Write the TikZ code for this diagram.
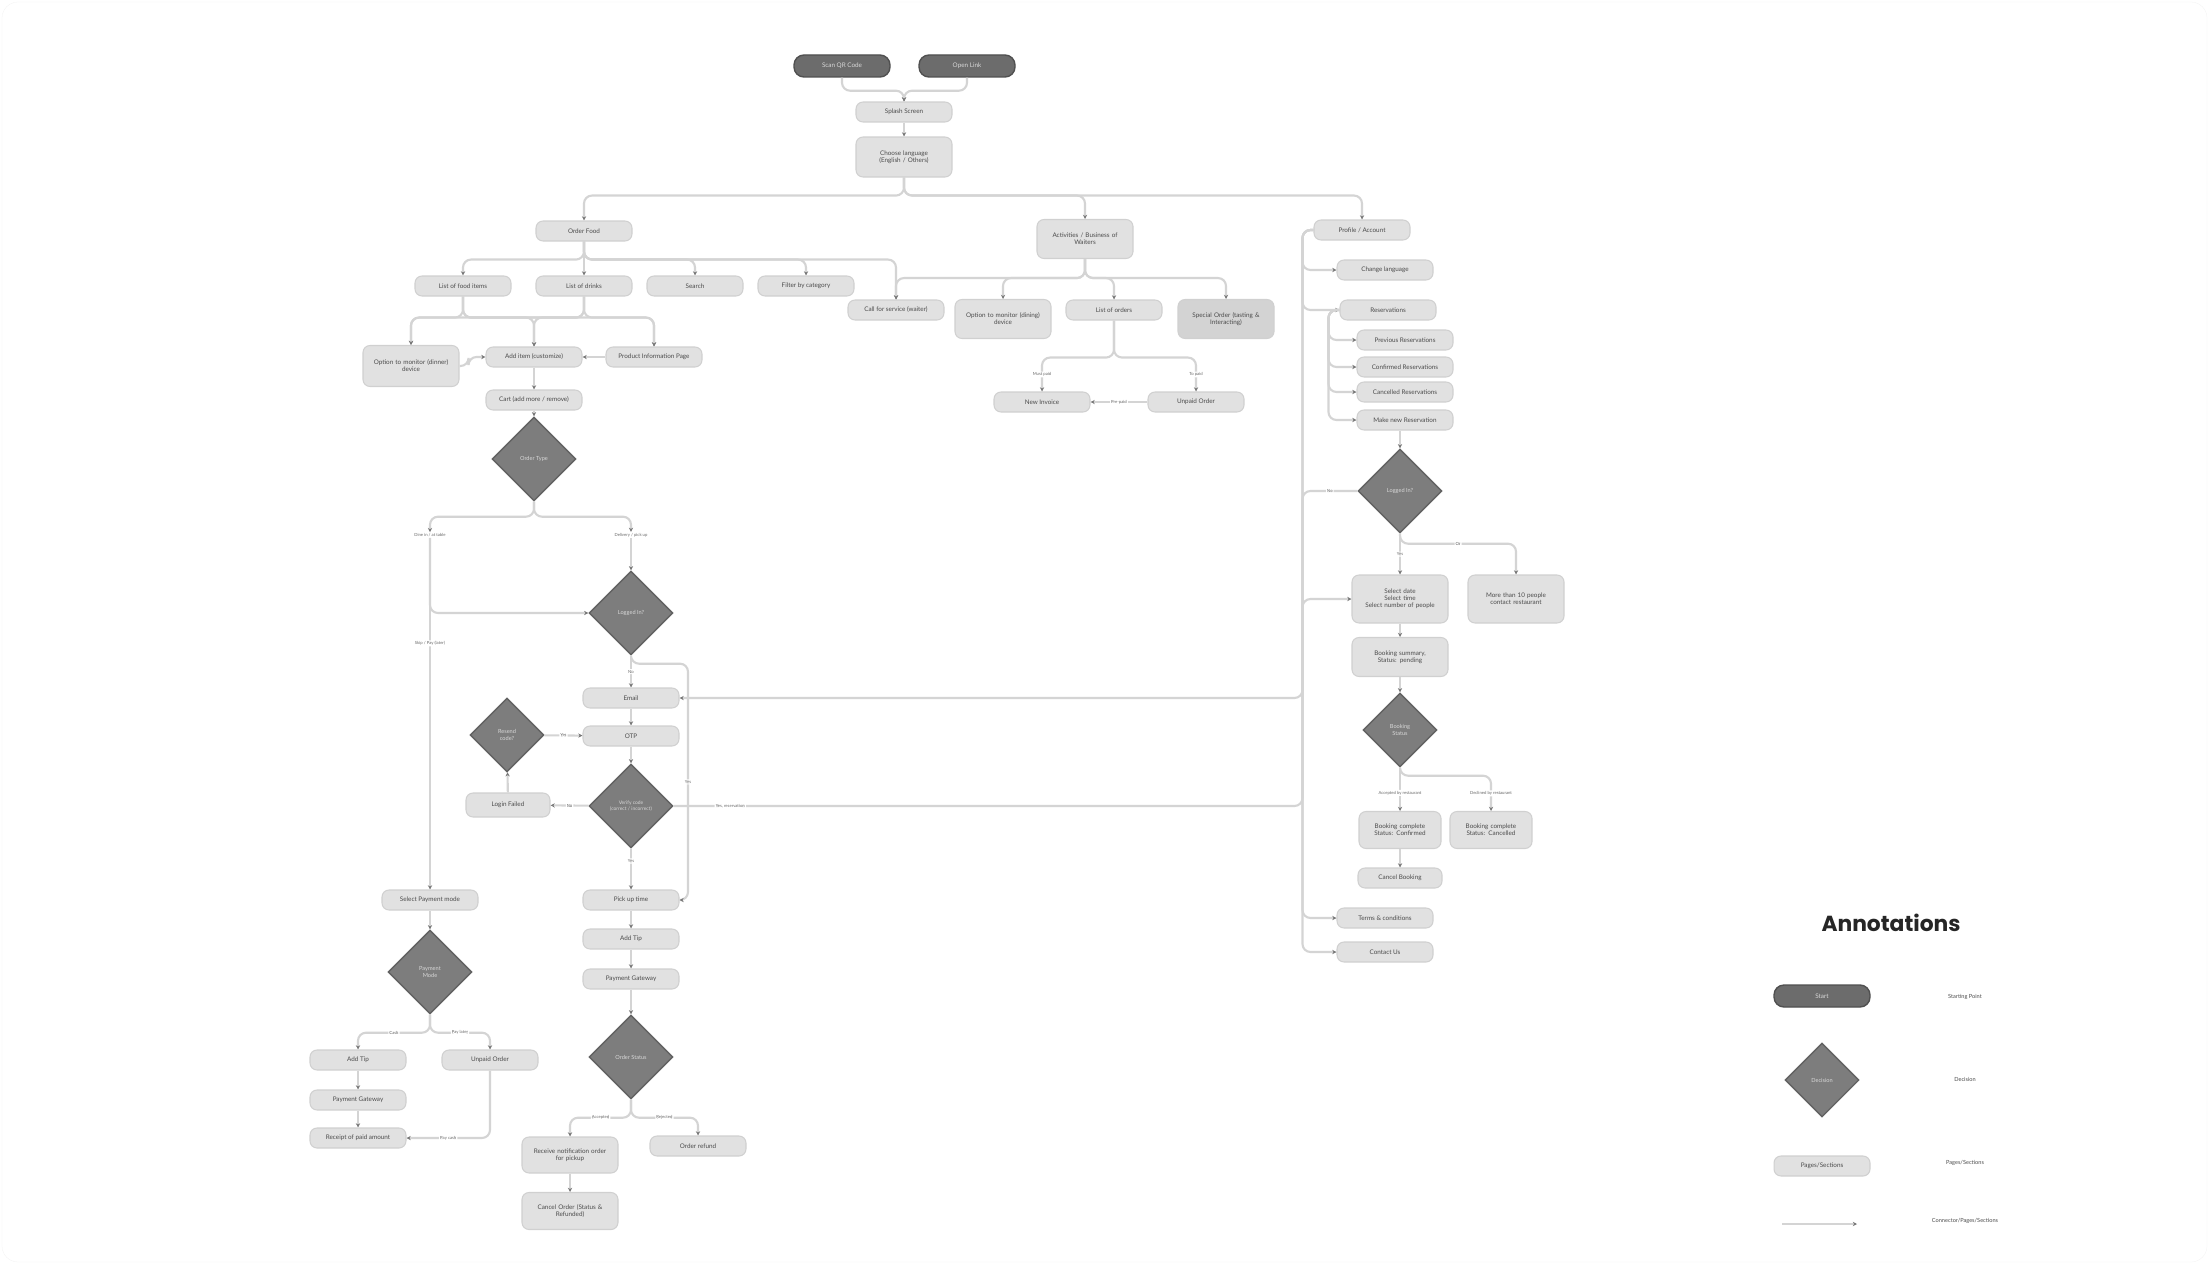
\documentclass[tikz,border=0pt]{standalone}
\usepackage{fontspec}
\setmainfont{Lato}
\newfontfamily\titlefont{Poppins}
\usetikzlibrary{shapes.geometric,arrows.meta,calc}
\definecolor{pagefill}{RGB}{225,225,225}
\definecolor{pageline}{RGB}{208,208,208}
\definecolor{pagetext}{RGB}{75,75,75}
\definecolor{startfill}{RGB}{108,108,108}
\definecolor{startline}{RGB}{80,80,80}
\definecolor{decfill}{RGB}{125,125,125}
\definecolor{decline}{RGB}{98,98,98}
\definecolor{linkgray}{RGB}{212,212,212}
\definecolor{tipgray}{RGB}{120,120,120}
\definecolor{lbltext}{RGB}{105,105,105}

\tikzset{
  page/.style={draw=pageline, line width=1.5pt, fill=pagefill, rounded corners=0.35cm,
    minimum width=4.8cm, minimum height=1cm, text=pagetext, align=center, inner sep=2pt,
    font=\fontsize{9}{10}\selectfont},
  page2/.style={page, minimum height=1.95cm, text width=4.4cm},
  startpill/.style={page, draw=startline, fill=startfill, text=white!85!black,
    rounded corners=0.5cm, minimum height=1.1cm, line width=2pt},
  decision/.style={diamond, draw=decline, line width=2pt, fill=decfill, minimum width=4.2cm,
    minimum height=4.2cm, inner sep=0pt, text=white!85!black, align=center,
    font=\fontsize{8}{9}\selectfont},
  smalldec/.style={decision, minimum width=3.7cm, minimum height=3.7cm},
  link/.style={draw=linkgray, line width=3pt, rounded corners=0.4cm,
    -{Stealth[length=6pt,width=6pt,color=tipgray]}},
  lbl/.style={fill=white, inner sep=1.5pt, text=lbltext, font=\fontsize{6}{7}\selectfont},
  legendtext/.style={text=pagetext, font=\fontsize{8}{9}\selectfont},
}

\begin{document}
\begin{tikzpicture}[x=0.05cm,y=-0.05cm]
\useasboundingbox (0,0) rectangle (2209,1264);
\draw[gray!10, fill=white, rounded corners=0.8cm] (2,2) rectangle (2207,1262);

% start
\node[startpill] (qr) at (842,66) {Scan QR Code};
\node[startpill] (openlink) at (967,66) {Open Link};
\node[page] (splash) at (904,112) {Splash Screen};
\node[page2, minimum height=2cm] (lang) at (904,157) {Choose language\\(English / Others)};

% main sections
\node[page] (order) at (584,231) {Order Food};
\node[page2] (waiter) at (1085,239) {Activities / Business of\\Waiters};
\node[page] (profile) at (1362,230) {Profile / Account};

% order food
\node[page] (food) at (463,286) {List of food items};
\node[page] (drinks) at (584,286) {List of drinks};
\node[page] (search) at (695,286) {Search};
\node[page] (filter) at (806,286) {Filter by category};
\node[page] (call) at (896,310) {Call for service (waiter)};
\node[page2, minimum height=2.05cm] (monitor) at (411,366) {Option to monitor (dinner)\\device};
\node[page] (additem) at (534,357) {Add item (customize)};
\node[page] (product) at (654,357) {Product Information Page};
\node[page] (cart) at (534,400) {Cart (add more / remove)};
\node[decision] (otype) at (534,459) {Order Type};
\node[lbl] (dine) at (430,535) {Dine in / at table};
\node[lbl] (delivery) at (631,535) {Delivery / pick up};
\node[decision] (logina) at (631,613) {Logged In?};
\node[page] (email) at (631,698) {Email};
\node[page] (otp) at (631,736) {OTP};
\node[smalldec] (resend) at (507,735) {Resend\\code?};
\node[page, minimum width=4.2cm, minimum height=1.2cm] (failed) at (508,805) {Login Failed};
\node[decision, font=\fontsize{7}{8}\selectfont] (verify) at (631,806) {Verify code\\(correct / incorrect)};
\node[page] (pickup) at (631,900) {Pick up time};
\node[page] (tipa) at (631,939) {Add Tip};
\node[page] (gwa) at (631,979) {Payment Gateway};
\node[decision] (ostatus) at (631,1057) {Order Status};
\node[page2, minimum height=1.8cm] (notify) at (570,1155) {Receive notification order\\for pickup};
\node[page] (refund) at (698,1146) {Order refund};
\node[page2, minimum height=1.85cm] (cancelord) at (570,1211) {Cancel Order (Status \&\\Refunded)};

% payment at table
\node[page] (paymode) at (430,900) {Select Payment mode};
\node[decision] (pmode) at (430,972) {Payment\\Mode};
\node[page] (tipb) at (358,1060) {Add Tip};
\node[page] (unpaid) at (490,1060) {Unpaid Order};
\node[page] (gwb) at (358,1100) {Payment Gateway};
\node[page] (receipt) at (358,1138) {Receipt of paid amount};

% waiters
\node[page2] (monitorb) at (1003,319) {Option to monitor (dining)\\device};
\node[page] (orders) at (1114,310) {List of orders};
\node[page2, fill=pagefill!94!black] (special) at (1226,319) {Special Order (tasting \&\\Interacting)};
\node[page] (invoice) at (1042,402) {New Invoice};
\node[page] (unpaidb) at (1196,402) {Unpaid Order};

% profile
\node[page] (langb) at (1385,270) {Change language};
\node[page] (resv) at (1388,310) {Reservations};
\node[page] (prev) at (1405,340) {Previous Reservations};
\node[page] (conf) at (1405,367) {Confirmed Reservations};
\node[page] (cancres) at (1405,392) {Cancelled Reservations};
\node[page] (newres) at (1405,420) {Make new Reservation};
\node[decision] (loginb) at (1400,491) {Logged In?};
\node[page2, minimum height=2.4cm] (select) at (1400,599) {Select date\\Select time\\Select number of people};
\node[page2, minimum height=2.4cm] (more) at (1516,599) {More than 10 people\\contact restaurant};
\node[page2] (summary) at (1400,657) {Booking summary,\\Status: pending};
\node[smalldec] (bstatus) at (1400,730) {Booking\\Status};
\node[page2, minimum width=4.1cm, text width=3.8cm, minimum height=1.85cm] (bconf) at (1400,830) {Booking complete\\Status: Confirmed};
\node[page2, minimum width=4.1cm, text width=3.8cm, minimum height=1.85cm] (bcanc) at (1491,830) {Booking complete\\Status: Cancelled};
\node[page, minimum width=4.2cm] (cancbk) at (1400,878) {Cancel Booking};
\node[page] (terms) at (1385,918) {Terms \& conditions};
\node[page] (contact) at (1385,952) {Contact Us};

% legend
\node[font=\titlefont\bfseries\fontsize{31}{36}\selectfont, text=black!85] (legtitle) at (1891,923) {Annotations};
\node[startpill] (legstart) at (1822,996) {Start};
\node[legendtext] (legstartlbl) at (1965,997) {Starting Point};
\node[smalldec] (legdec) at (1822,1080) {Decision};
\node[legendtext] (legdeclbl) at (1965,1079) {Decision};
\node[page] (legpage) at (1822,1166) {Pages/Sections};
\node[legendtext] (legpagelbl) at (1965,1163) {Pages/Sections};
\coordinate (legfrom) at (1782,1224);
\coordinate (legto) at (1857,1224);
\node[legendtext] (leglinklbl) at (1965,1221) {Connector/Pages/Sections};
\draw[link] (legfrom) -- (legto);

% connectors: top
\draw[link] (qr.south) -- ++(0,13) -| (splash.north);
\draw[link] (openlink.south) -- ++(0,13) -| (splash.north);
\draw[link] (splash) -- (lang);
\foreach \n in {order,waiter,profile}
  \draw[link] (lang.south) -- ++(0,18) -| (\n.north);

% connectors: order food
\foreach \n in {food,drinks,search,filter,call}
  \draw[link] (order.south) -- ++(0,18) -| (\n.north);
\foreach \n in {monitor,additem,product}{
  \draw[link] (food.south) -- ++(0,21) -| (\n.north);
  \draw[link] (drinks.south) -- ++(0,21) -| (\n.north);
}
\draw[link] (monitor.east) -- ++(9,0) |- (additem.west);
\draw[link] (product) -- (additem);
\draw[link] (additem) -- (cart);
\draw[link] (cart) -- (otype);
\draw[link] (otype.south) -- ++(0,15) -| (dine.north);
\draw[link] (otype.south) -- ++(0,15) -| (delivery.north);
\draw[link] (dine.south) -- (paymode.north) node[lbl, pos=0.3] {Skip / Pay (later)};
\draw[link] (dine.south) |- (logina.west);
\draw[link] (delivery) -- (logina);
\draw[link] (logina) -- (email) node[lbl, midway] {No};
\draw[link] (logina.south) -- ++(0,8) -- ++(57,0) |- (pickup.east) node[lbl, pos=0.25] {Yes};
\draw[link] (email) -- (otp);
\draw[link] (otp) -- (verify);
\draw[link] (verify) -- (failed) node[lbl, midway] {No};
\draw[link] (failed) -- (resend);
\draw[link] (resend) -- (otp) node[lbl, midway] {Yes};
\draw[link] (verify) -- (pickup) node[lbl, pos=0.3] {Yes};
\draw[link] (pickup) -- (tipa);
\draw[link] (tipa) -- (gwa);
\draw[link] (gwa) -- (ostatus);
\draw[link] (ostatus.south) -- ++(0,18) -| (notify.north) node[lbl, pos=0.25] {Accepted};
\draw[link] (ostatus.south) -- ++(0,18) -| (refund.north) node[lbl, pos=0.25] {Rejected};
\draw[link] (notify) -- (cancelord);

% connectors: payment
\draw[link] (paymode) -- (pmode);
\draw[link] (pmode.south) -- ++(0,18) -| (tipb.north) node[lbl, pos=0.25] {Cash};
\draw[link] (pmode.south) -- ++(0,18) -| (unpaid.north) node[lbl, pos=0.25] {Pay later};
\draw[link] (tipb) -- (gwb);
\draw[link] (gwb) -- (receipt);
\draw[link] (unpaid.south) |- (receipt.east) node[lbl, pos=0.75] {Pay cash};

% connectors: waiters
\foreach \n in {call,monitorb,orders,special}
  \draw[link] (waiter.south) -- ++(0,19) -| (\n.north);
\draw[link] (orders.south) -- ++(0,37) -| (invoice.north) node[lbl, pos=0.75] {Must paid};
\draw[link] (orders.south) -- ++(0,37) -| (unpaidb.north) node[lbl, pos=0.75] {To paid};
\draw[link] (unpaidb) -- (invoice) node[lbl, midway] {Pre-paid};

% connectors: profile
\coordinate (rail) at ($(profile.west)+(-11,0)$);
\coordinate (subrail) at ($(resv.west)+(-11,0)$);
\foreach \n in {langb,resv,terms,contact}
  \draw[link] (profile.west) -- (rail) |- (\n.west);
\foreach \n in {prev,conf,cancres,newres}
  \draw[link] (resv.west) -- (subrail) |- (\n.west);
\draw[link] (newres.south -| loginb.north) -- (loginb.north);
\draw[link] (loginb.west) -- node[lbl] {No} (loginb.west -| rail) |- (email.east);
\draw[link] (loginb.south) -- (select.north) node[lbl, midway] {Yes};
\draw[link] (loginb.south) -- ++(0,10) -| (more.north) node[lbl, pos=0.25] {Or};
\draw[link] (verify.east) -- node[lbl, pos=0.09] {Yes, reservation} (verify.east -| rail) |- (select.west);
\draw[link] (select) -- (summary);
\draw[link] (summary) -- (bstatus);
\draw[link] (bstatus) -- (bconf) node[lbl, pos=0.58] {Accepted by restaurant};
\draw[link] (bstatus.south) -- ++(0,8) -| (bcanc.north) node[lbl, pos=0.75] {Declined by restaurant};
\draw[link] (bconf) -- (cancbk);

\end{tikzpicture}
\end{document}
